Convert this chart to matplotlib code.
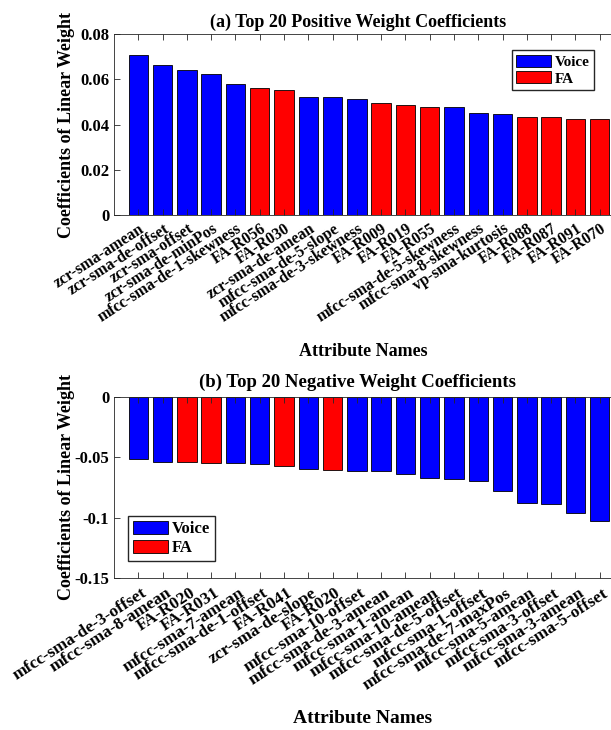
import matplotlib
matplotlib.use('Agg')
import matplotlib.pyplot as plt
import matplotlib.transforms as mtransforms
from matplotlib.patches import Patch
import numpy as np

plt.rcParams['font.family'] = ['Liberation Serif', 'DejaVu Serif']
plt.rcParams['font.weight'] = 'bold'
plt.rcParams['axes.unicode_minus'] = False

# top 20 positive weights
pos_names = ['zcr-sma-amean', 'zcr-sma-de-offset', 'zcr-sma-offset', 'zcr-sma-de-minPos',
             'mfcc-sma-de-1-skewness', 'FA-R056', 'FA-R030', 'zcr-sma-de-amean',
             'mfcc-sma-de-5-slope', 'mfcc-sma-de-3-skewness', 'FA-R009', 'FA-R019',
             'FA-R055', 'mfcc-sma-de-5-skewness', 'mfcc-sma-8-skewness', 'vp-sma-kurtosis',
             'FA-R088', 'FA-R087', 'FA-R091', 'FA-R070']
pos_vals = [0.0708, 0.0665, 0.0642, 0.0623, 0.0580, 0.0560, 0.0554, 0.0522, 0.0522, 0.0514,
            0.0495, 0.0488, 0.0479, 0.0476, 0.0453, 0.0445, 0.0431, 0.0431, 0.0423, 0.0423]
pos_group = ['Voice', 'Voice', 'Voice', 'Voice', 'Voice', 'FA', 'FA', 'Voice', 'Voice', 'Voice',
             'FA', 'FA', 'FA', 'Voice', 'Voice', 'Voice', 'FA', 'FA', 'FA', 'FA']

# top 20 negative weights
neg_names = ['mfcc-sma-de-3-offset', 'mfcc-sma-8-amean', 'FA-R020', 'FA-R031',
             'mfcc-sma-7-amean', 'mfcc-sma-de-1-offset', 'FA-R041', 'zcr-sma-de-slope',
             'FA-R020', 'mfcc-sma-10-offset', 'mfcc-sma-de-3-amean', 'mfcc-sma-1-amean',
             'mfcc-sma-10-amean', 'mfcc-sma-de-5-offset', 'mfcc-sma-1-offset',
             'mfcc-sma-de-7-maxPos', 'mfcc-sma-5-amean', 'mfcc-sma-3-offset',
             'mfcc-sma-3-amean', 'mfcc-sma-5-offset']
neg_vals = [-0.0511, -0.0539, -0.0539, -0.0547, -0.0547, -0.0555, -0.0575, -0.0594, -0.0602,
            -0.0610, -0.0610, -0.0638, -0.0674, -0.0682, -0.0696, -0.0776, -0.0881, -0.0887,
            -0.0964, -0.1030]
neg_group = ['Voice', 'Voice', 'FA', 'FA', 'Voice', 'Voice', 'FA', 'Voice', 'FA', 'Voice',
             'Voice', 'Voice', 'Voice', 'Voice', 'Voice', 'Voice', 'Voice', 'Voice', 'Voice', 'Voice']

pos_ticks = [0, 0.02, 0.04, 0.06, 0.08]
pos_ticklabels = ['0', '0.02', '0.04', '0.06', '0.08']
neg_ticks = [-0.15, -0.1, -0.05, 0]
neg_ticklabels = ['-0.15', '-0.1', '-0.05', '0']

colors = {'Voice': '#0000ff', 'FA': '#ff0000'}

fig = plt.figure(figsize=(6.11, 7.30), dpi=100)
ax1 = fig.add_axes([0.1866, 0.7055, 0.8347, 0.2479])
ax2 = fig.add_axes([0.1866, 0.2082, 0.8347, 0.2480])


def draw(ax, names, vals, group, ticks, ticklabels, ylim, title, title_size, title_pad,
         tick_size, tick_pad, tick_dx, xlab_size, xlab_y, leg_loc, leg_anchor, leg_size):
    x = np.arange(1, len(vals) + 1)
    ax.bar(x, vals, width=0.8, color=[colors[g] for g in group],
           edgecolor='black', linewidth=0.6)
    ax.set_xlim(0, len(vals) + 1)
    ax.set_ylim(*ylim)
    ax.set_yticks(ticks)
    ax.set_yticklabels(ticklabels, fontsize=12, fontweight='bold')
    ax.set_xticks(x)
    ax.set_xticklabels(names, rotation=33, ha='right', va='center', rotation_mode='anchor',
                       fontsize=tick_size, fontweight='bold')
    ax.tick_params(axis='x', pad=tick_pad)
    ax.tick_params(direction='in', top=True, right=True, length=4, width=0.6,
                   color='#262626')
    # nudge rotated labels to the right like the original
    shift = mtransforms.ScaledTranslation(tick_dx / 100, 0, fig.dpi_scale_trans)
    for lab in ax.get_xticklabels():
        lab.set_transform(lab.get_transform() + shift)
    for s in ax.spines.values():
        s.set_color('#262626')
        s.set_linewidth(0.6)
    ax.set_title(title, fontsize=title_size, fontweight='bold', pad=title_pad, x=0.478)
    ax.set_xlabel('Attribute Names', fontsize=xlab_size, fontweight='bold')
    ax.xaxis.set_label_coords(0.488, xlab_y)
    ax.set_ylabel('Coefficients of Linear Weight', fontsize=13, fontweight='bold')
    ax.yaxis.set_label_coords(-0.076, 0.5)
    handles = [Patch(facecolor=colors['Voice'], edgecolor='black', linewidth=0.6, label='Voice'),
               Patch(facecolor=colors['FA'], edgecolor='black', linewidth=0.6, label='FA')]
    ax.legend(handles=handles, loc=leg_loc, bbox_to_anchor=leg_anchor, fontsize=leg_size,
              fancybox=False, edgecolor='#262626', framealpha=1,
              handlelength=25.2 / leg_size, handleheight=0.85, handletextpad=0.2,
              labelspacing=0.15, borderpad=0.3, borderaxespad=0.0)


draw(ax1, pos_names, pos_vals, pos_group, pos_ticks, pos_ticklabels, (0, 0.08),
     '(a) Top 20 Positive Weight Coefficients', 13, 5, 11.5, 9, 5, 13, -0.707,
     'upper right', (0.941, 0.912), 11)
draw(ax2, neg_names, neg_vals, neg_group, neg_ticks, neg_ticklabels, (-0.15, 0),
     '(b) Top 20 Negative Weight Coefficients', 13.5, 7, 12.5, 10, 7, 14, -0.729,
     'lower left', (0.0275, 0.094), 12)

fig.savefig('out.png', dpi=100)
